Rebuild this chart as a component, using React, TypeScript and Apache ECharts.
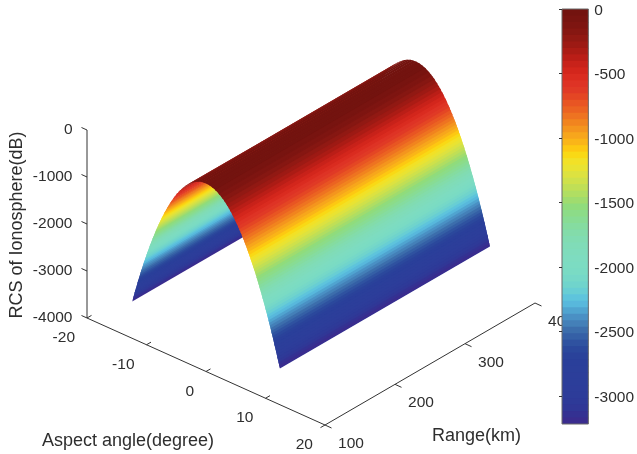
import React, { useEffect, useRef } from "react";
import * as echarts from "echarts";

// ---- data ----
const aspectAngles = [-12.4, -12, -11.5, -11, -10.5, -10, -9.5, -9, -8.5, -8, -7.5, -7, -6.5, -6, -5.5, -5, -4.5, -4, -3.5, -3, -2.5, -2, -1.5, -1, -0.5, 0, 0.5, 1, 1.5, 2, 2.5, 3, 3.5, 4, 4.5, 5, 5.5, 6, 6.5, 7, 7.5, 8, 8.5, 9, 9.5, 10, 10.5, 11, 11.5, 12, 12.4];
const rcsValues = [-3217, -3013, -2767, -2531, -2306, -2092, -1888, -1695, -1511, -1339, -1177, -1025, -884, -753, -633, -523, -424, -335, -256, -188, -131, -84, -47, -21, -5, 0, -5, -21, -47, -84, -131, -188, -256, -335, -424, -523, -633, -753, -884, -1025, -1177, -1339, -1511, -1695, -1888, -2092, -2306, -2531, -2767, -3013, -3217];
const rangeExtent = [100, 400];
const aspectTicks = [-20, -10, 0, 10, 20];
const rangeTicks = [100, 200, 300, 400];
const rcsTicks = [0, -1000, -2000, -3000, -4000];
const colorbarTicks = [0, -500, -1000, -1500, -2000, -2500, -3000];
const colorMin = -3217;
const colorBands = [
  "#73130f", "#781410", "#7e1511", "#861712", "#911913", "#9d1a14", "#ab1c15", "#ba1e17",
  "#c8221a", "#d3261c", "#da2c20", "#de3325", "#e03a26", "#e44624", "#e85523", "#eb6322",
  "#ee7321", "#f1841f", "#f4951e", "#f7a61c", "#fab518", "#fdc812", "#f9d915", "#f2e127",
  "#e9e332", "#dde240", "#cfe14b", "#c0df56", "#b0de62", "#a0dc6e", "#90dc7c", "#8cdc88",
  "#88dc94", "#85dca0", "#83dcaa", "#81dcb2", "#80dcb8", "#7fdcbc", "#7edcc0", "#7cdcc2",
  "#7adbc4", "#76d8c8", "#70d4cc", "#68ced4", "#5ec4dc", "#58b8dc", "#50a4d0", "#4a90c4",
  "#4480b8", "#3c6eac", "#3560a6", "#2f52a0", "#2b489c", "#2a429a", "#2a3f9a", "#2b3f9a",
  "#2c3e9a", "#2c3e9a", "#2d3d9a", "#2d3c99", "#2e3a98", "#303796", "#343192", "#3a2c8e",
];

// ---- oblique view of the 3D box on the page plane ----
const WIDTH = 637;
const HEIGHT = 454;
const VIEW = { ox: 87, oy: 318, ax: 238, ay: 107, rx: 210, ry: -122, zy: -188 };
const project = (a: number, r: number, z: number): number[] => {
  const fa = (a + 20) / 40;
  const fr = (r - 100) / 300;
  const fz = (z + 4000) / 4000;
  return [VIEW.ox + fa * VIEW.ax + fr * VIEW.rx, VIEW.oy + fa * VIEW.ay + fr * VIEW.ry + fz * VIEW.zy];
};

const AXIS_COLOR = "#333333";
const TEXT_COLOR = "#2e2e2e";
const FONT = '"Liberation Sans", Arial, sans-serif';
const TICK_FONT = 15.5;
const TITLE_FONT = 18;
const OVERLAP = 0.12; // degrees each facet runs under the next one, so no seams show

const bandHeight = -colorMin / colorBands.length;
const bandOf = (z: number) => Math.min(colorBands.length - 1, Math.max(0, Math.floor(-z / bandHeight)));

function renderSurface(params: any, api: any) {
  const i = params.dataIndex;
  if (i >= aspectAngles.length - 1) return null;
  const a0 = aspectAngles[i];
  const a1 = aspectAngles[i + 1];
  const z0 = rcsValues[i];
  const z1 = rcsValues[i + 1];
  const last = i === aspectAngles.length - 2;
  // split the strip wherever it crosses a colour band boundary
  const ts = [0];
  const lo = Math.min(-z0, -z1);
  const hi = Math.max(-z0, -z1);
  const cuts: number[] = [];
  for (let b = 1; b < colorBands.length; b++) {
    const level = b * bandHeight;
    if (level > lo && level < hi) cuts.push((-level - z0) / (z1 - z0));
  }
  cuts.sort((p, q) => p - q);
  ts.push(...cuts, 1);
  const extra = OVERLAP / (a1 - a0);
  const children: any[] = [];
  for (let k = 0; k < ts.length - 1; k++) {
    const t0 = ts[k];
    const t1 = ts[k + 1];
    const tEnd = last && k === ts.length - 2 ? 1 : t1 + extra;
    const aa = a0 + (a1 - a0) * t0;
    const ab = a0 + (a1 - a0) * tEnd;
    const za = z0 + (z1 - z0) * t0;
    const zb = z0 + (z1 - z0) * tEnd;
    const fill = colorBands[bandOf(z0 + (z1 - z0) * ((t0 + t1) / 2))];
    const pts = [
      api.coord(project(aa, rangeExtent[0], za)),
      api.coord(project(aa, rangeExtent[1], za)),
      api.coord(project(ab, rangeExtent[1], zb)),
      api.coord(project(ab, rangeExtent[0], zb)),
    ];
    children.push({
      type: "polygon",
      shape: { points: pts },
      style: { fill },
      silent: true,
    });
  }
  return { type: "group", children };
}

function renderBox(_params: any, api: any) {
  const children: any[] = [];
  const line = (p: number[], q: number[]) => {
    const a = api.coord(p);
    const b = api.coord(q);
    children.push({
      type: "line",
      shape: { x1: a[0], y1: a[1], x2: b[0], y2: b[1] },
      style: { stroke: AXIS_COLOR, lineWidth: 1 },
      silent: true,
    });
  };
  const label = (p: number[], text: string, dx: number, dy: number, align: string) => {
    const a = api.coord(p);
    children.push({
      type: "text",
      x: a[0] + dx,
      y: a[1] + dy,
      style: { text, fill: TEXT_COLOR, font: `${TICK_FONT}px ${FONT}`, align, verticalAlign: "middle" },
      silent: true,
    });
  };
  const aMin = aspectTicks[0];
  const aMax = aspectTicks[aspectTicks.length - 1];
  const rMin = rangeTicks[0];
  const rMax = rangeTicks[rangeTicks.length - 1];
  const zMin = rcsTicks[rcsTicks.length - 1];
  const zMax = rcsTicks[0];
  line(project(aMin, rMin, zMin), project(aMin, rMin, zMax));
  line(project(aMin, rMin, zMin), project(aMax, rMin, zMin));
  line(project(aMax, rMin, zMin), project(aMax, rMax, zMin));
  rcsTicks.forEach((z) => {
    const p = project(aMin, rMin, z);
    line(p, [p[0] - 5.5, p[1] - 2.5]);
    label(p, String(z), -14.5, -2, "right");
  });
  aspectTicks.forEach((a) => {
    const p = project(a, rMin, zMin);
    if (a === aMax) line(p, [p[0] - 4.5, p[1] + 2.6]);
    else line(p, [p[0] + 4.5, p[1] - 2.6]);
    label(p, String(a), -12, 18.5, "right");
  });
  rangeTicks.forEach((r) => {
    const p = project(aMax, r, zMin);
    line(p, [p[0] + 6.5, p[1] + 3]);
    label(p, String(r), 26, 17.5, "center");
  });
  return { type: "group", children };
}

function renderColorbar(params: any, api: any) {
  const i = params.dataIndex;
  const a = api.coord([0, -i * bandHeight]);
  const b = api.coord([1, -(i + 1) * bandHeight]);
  const extra = i === colorBands.length - 1 ? 0 : 1;
  return {
    type: "rect",
    shape: { x: a[0], y: a[1], width: b[0] - a[0], height: b[1] - a[1] + extra },
    style: { fill: colorBands[i] },
    silent: true,
  };
}

function renderColorbarFrame(_params: any, api: any) {
  const a = api.coord([0, 0]);
  const b = api.coord([1, colorMin]);
  return {
    type: "rect",
    shape: { x: a[0], y: a[1], width: b[0] - a[0], height: b[1] - a[1] },
    style: { fill: "none", stroke: "#6a6a6a", lineWidth: 1 },
    silent: true,
  };
}

export default function App() {
  const ref = useRef<HTMLDivElement>(null);
  useEffect(() => {
    const chart = echarts.init(ref.current!, undefined, { renderer: "svg" });
    const titleStyle = { fill: TEXT_COLOR, font: `${TITLE_FONT}px ${FONT}` };
    chart.setOption({
      animation: false,
      backgroundColor: "#ffffff",
      grid: [
        { left: 0, top: 0, width: WIDTH, height: HEIGHT },
        { left: 562, top: 9, width: 31, height: 415 },
      ],
      xAxis: [
        { type: "value", gridIndex: 0, min: 0, max: WIDTH, show: false },
        { type: "value", gridIndex: 1, min: 0, max: 1, show: false },
      ],
      yAxis: [
        { type: "value", gridIndex: 0, min: 0, max: HEIGHT, inverse: true, show: false },
        {
          type: "value",
          gridIndex: 1,
          min: colorMin,
          max: 0,
          position: "right",
          z: 6,
          axisLine: { show: false },
          splitLine: { show: false },
          axisTick: { show: true, inside: true, length: 3, customValues: colorbarTicks, lineStyle: { color: "#333333" } },
          axisLabel: {
            show: true,
            customValues: colorbarTicks,
            margin: 6,
            color: TEXT_COLOR,
            fontFamily: FONT,
            fontSize: TICK_FONT,
            formatter: (v: number) => String(v),
          },
        },
      ],
      series: [
        {
          name: "Surface",
          type: "custom",
          xAxisIndex: 0,
          yAxisIndex: 0,
          clip: false,
          z: 2,
          data: aspectAngles.map((a, i) => [i, a, rcsValues[i]]),
          renderItem: renderSurface,
        },
        {
          name: "Box",
          type: "custom",
          xAxisIndex: 0,
          yAxisIndex: 0,
          clip: false,
          z: 1,
          data: [[0]],
          renderItem: renderBox,
        },
        {
          name: "Colorbar",
          type: "custom",
          xAxisIndex: 1,
          yAxisIndex: 1,
          clip: false,
          z: 4,
          data: colorBands.map((_, i) => [i]),
          renderItem: renderColorbar,
        },
        {
          name: "Colorbar frame",
          type: "custom",
          xAxisIndex: 1,
          yAxisIndex: 1,
          clip: false,
          z: 5,
          data: [[0]],
          renderItem: renderColorbarFrame,
        },
      ],
      graphic: [
        {
          type: "text",
          x: 16,
          y: 225,
          rotation: Math.PI / 2,
          style: { ...titleStyle, text: "RCS of Ionosphere(dB)", textAlign: "center", textVerticalAlign: "middle" },
        },
        {
          type: "text",
          x: 42,
          y: 440,
          style: { ...titleStyle, text: "Aspect angle(degree)", textAlign: "left", textVerticalAlign: "middle" },
        },
        {
          type: "text",
          x: 432,
          y: 435,
          style: { ...titleStyle, text: "Range(km)", textAlign: "left", textVerticalAlign: "middle" },
        },
      ],
    });
    return () => chart.dispose();
  }, []);
  return (
    <div
      ref={ref}
      style={{ position: "absolute", left: 0, top: 0, width: WIDTH, height: HEIGHT, filter: "blur(0.5px)" }}
    />
  );
}
